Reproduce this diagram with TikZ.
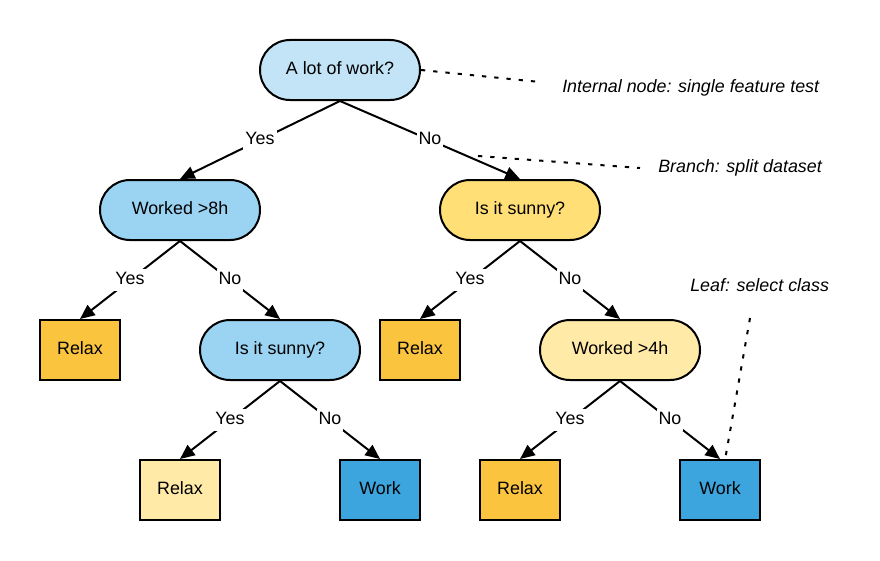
\documentclass[tikz,border=0pt]{standalone}
\usepackage{fontspec}
\setmainfont{Liberation Sans}
\usetikzlibrary{arrows.meta,shapes.misc}
\definecolor{rootblue}{RGB}{194,228,246}
\definecolor{testblue}{RGB}{155,211,242}
\definecolor{testyellow}{RGB}{255,223,118}
\definecolor{paleyellow}{RGB}{255,234,168}
\definecolor{relaxorange}{RGB}{251,196,62}
\definecolor{workblue}{RGB}{60,165,221}
\begin{document}
\begin{tikzpicture}[x=0.75pt,y=0.75pt,yscale=-1,xscale=1,
  font=\fontsize{13.4}{15}\selectfont,
  test/.style={draw,line width=1.5pt,rounded rectangle,minimum width=120pt,minimum height=45pt,inner sep=0pt,text height=10pt,text depth=3.4pt},
  leaf/.style={draw,line width=1.5pt,minimum width=60pt,minimum height=45pt,inner sep=0pt,text height=10pt,text depth=3.4pt},
  branch/.style={line width=1.5pt,-{Triangle[length=11pt,width=9.5pt]}},
  answer/.style={fill=white,inner sep=1.5pt,text height=10pt,text depth=3.4pt},
  note/.style={line width=1.5pt,dash pattern=on 3.2pt off 6pt},
  notetext/.style={anchor=west,inner sep=0pt,font=\fontsize{13.4}{15}\selectfont\itshape}]
\useasboundingbox (0,0) rectangle (880,560);

%Shape: tests
\node [test,fill=rootblue] (root) at (340,70) {A lot of work?};
\node [test,fill=testblue] (work8) at (180,210) {Worked >8h};
\node [test,fill=testyellow] (sunnyR) at (520,210) {Is it sunny?};
\node [test,fill=testblue] (sunnyL) at (280,350) {Is it sunny?};
\node [test,fill=paleyellow] (work4) at (620,350) {Worked >4h};

%Shape: leaves
\node [leaf,fill=relaxorange] (relaxA) at (80,350) {Relax};
\node [leaf,fill=relaxorange] (relaxB) at (420,350) {Relax};
\node [leaf,fill=paleyellow] (relaxC) at (180,490) {Relax};
\node [leaf,fill=workblue] (workA) at (380,490) {Work};
\node [leaf,fill=relaxorange] (relaxD) at (520,490) {Relax};
\node [leaf,fill=workblue] (workB) at (720,490) {Work};

%Straight Lines: branches
\draw [branch] (root.south) -- node [answer] {Yes} (work8.north);
\draw [branch] (root.south) -- node [answer] {No} (sunnyR.north);
\draw [branch] (work8.south) -- node [answer] {Yes} (relaxA.north);
\draw [branch] (work8.south) -- node [answer] {No} (sunnyL.north);
\draw [branch] (sunnyR.south) -- node [answer] {Yes} (relaxB.north);
\draw [branch] (sunnyR.south) -- node [answer] {No} (work4.north);
\draw [branch] (sunnyL.south) -- node [answer] {Yes} (relaxC.north);
\draw [branch] (sunnyL.south) -- node [answer] {No} (workA.north);
\draw [branch] (work4.south) -- node [answer] {Yes} (relaxD.north);
\draw [branch] (work4.south) -- node [answer] {No} (workB.north);

% Text Node
\node [notetext] (noteInternal) at (562,88) {Internal node: single feature test};
\node [notetext] (noteBranch) at (658,168) {Branch: split dataset};
\node [notetext] (noteLeaf) at (690,285) {Leaf: select class};

%Dotted Lines
\coordinate (internalEnd) at (540,82);
\coordinate (branchStart) at (478,156);
\coordinate (branchEnd) at (640,168);
\coordinate (leafStart) at (750,318);
\coordinate (leafEnd) at (725,460);
\draw [note] (root.east) -- (internalEnd);
\draw [note] (branchStart) -- (branchEnd);
\draw [note] (leafStart) -- (leafEnd);

\end{tikzpicture}
\end{document}
